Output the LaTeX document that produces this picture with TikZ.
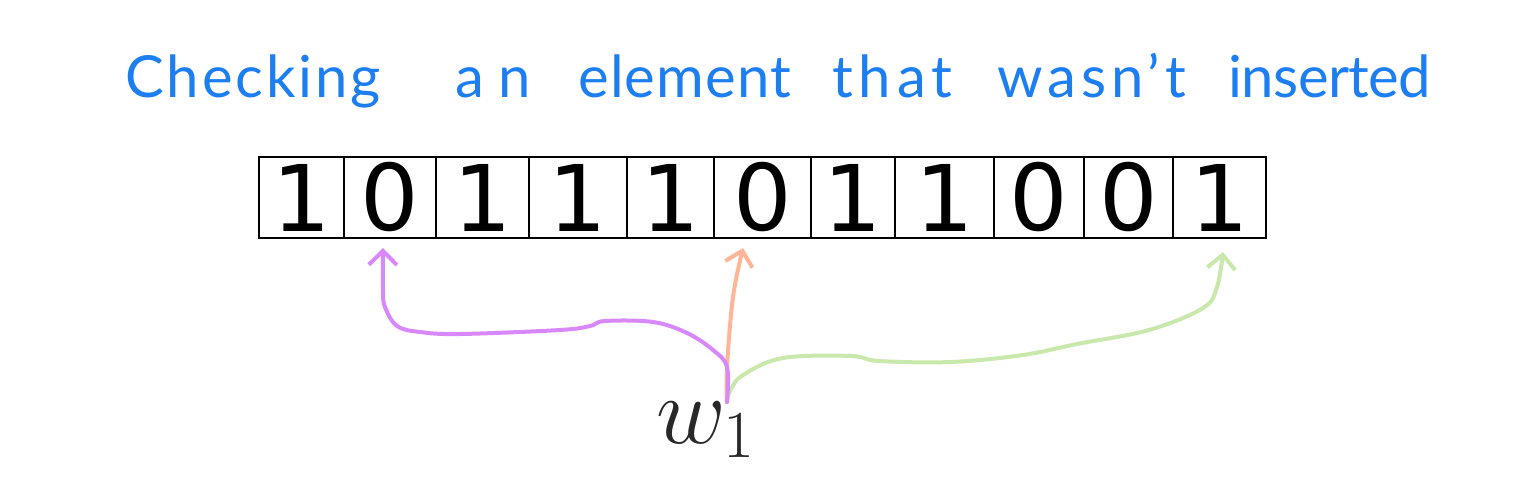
\RequirePackage{fix-cm}
\documentclass[tikz,border=0pt]{standalone}
\usepackage{fontspec}
\setmainfont{DejaVu Sans}
\newfontfamily\titlefont{Lato}
\usetikzlibrary{arrows.meta,calc}
\definecolor{titleblue}{RGB}{28,126,240}
\definecolor{arrpurple}{RGB}{216,136,250}
\definecolor{arrorange}{RGB}{255,182,152}
\definecolor{arrgreen}{RGB}{200,232,172}
\definecolor{wgray}{RGB}{40,40,40}
\newcommand{\spaced}[2]{{\addfontfeature{LetterSpace=#1}#2}}
\tikzset{
  cell/.style={draw=black, line width=1.25pt, minimum height=40.5pt, inner sep=0pt, outer sep=0pt,
    font=\fontsize{46}{46}\selectfont},
  conn/.style={line width=2pt, line cap=round, line join=round,
    -{Straight Barb[length=7pt,width=14pt,line width=2pt]}},
  titletext/.style={text=titleblue, font=\titlefont\fontsize{29}{29}\selectfont, anchor=base west, inner sep=0pt},
}
\begin{document}
\begin{tikzpicture}[x=0.5pt,y=-0.5pt]
\useasboundingbox (0,0) rectangle (1536,498);
% title
\node[titletext] (t1) at (125,97) {\spaced{5}{Checking}};
\node[titletext] (t2) at (455,97) {\spaced{25}{an}};
\node[titletext] (t3) at (578,97) {\spaced{2}{element}};
\node[titletext] (t4) at (832,97) {\spaced{10}{that}};
\node[titletext] (t5) at (997,97) {\spaced{8.5}{wasn’t}};
\node[titletext] (t6) at (1228,97) {\spaced{-1}{inserted}};
% cells
\foreach \n/\l/\r/\d in {1/259/344/1, 2/344/436/0, 3/436/529/1, 4/529/627/1, 5/627/714/1, 6/714/811/0, 7/811/895/1, 8/895/994/1, 9/994/1084/0, 10/1084/1173/0, 11/1173/1266/1}{
  \pgfmathsetmacro\w{(\r-\l)*0.5}
  \node[cell, minimum width=\w pt] (c\n) at ({(\l+\r)/2},197.5) {\d};
}
% label
\node[text=wgray, font=\fontsize{48}{48}\selectfont, inner sep=0pt] (w) at (706,430) {$w_1$};
\coordinate (s) at (727,402);
\coordinate (e2) at ($(c2.south)+(-7,10)$);
\coordinate (e6) at ($(c6.south)+(-19.5,10)$);
\coordinate (e11) at ($(c11.south)+(3.5,14)$);
% connectors
\draw[conn, arrgreen] plot[smooth, tension=0.6] coordinates {(s) (730,391) (743,375) (783,358) (851,356) (879,361) (951,362) (1023,355) (1077,344) (1149,330) (1203,308) (1217,287) (e11)};
\draw[conn, arrorange] plot[smooth, tension=0.6] coordinates {(s) (727,367) (733,297) (e6)};
\draw[conn, arrpurple] plot[smooth, tension=0.6] coordinates {(s) (727,367) (713,350) (687,333) (653,322) (605,321) (590,326) (560,330) (460,334) (420,332) (397,326) (385,307) (383,290) (e2)};
\end{tikzpicture}
\end{document}
